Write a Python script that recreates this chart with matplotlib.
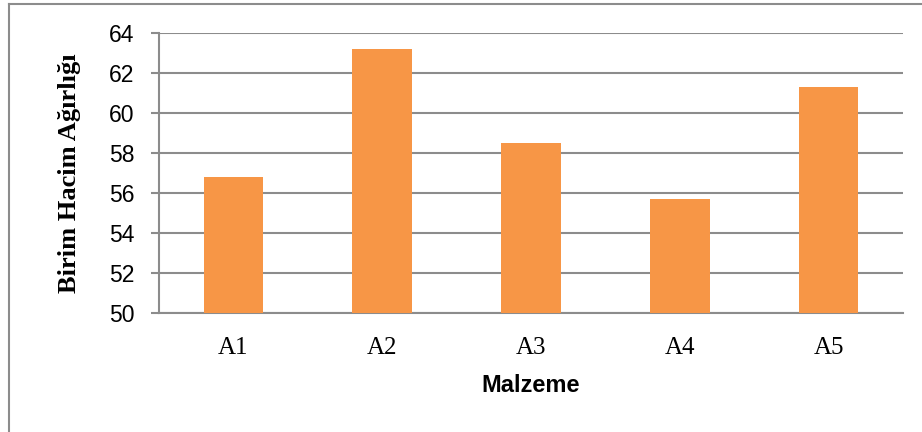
import matplotlib
matplotlib.use('Agg')
import matplotlib.pyplot as plt
import numpy as np

materials = ['A1', 'A2', 'A3', 'A4', 'A5']
unit_weight = [56.8, 63.2, 58.5, 55.7, 61.3]
y_ticks = [50, 52, 54, 56, 58, 60, 62, 64]

bar_color = '#F79646'
grid_color = '#8C8C8C'

fig = plt.figure(figsize=(9.22, 4.32), dpi=100)
ax = fig.add_axes([159 / 922, 1 - 313 / 432, (903 - 159) / 922, (313 - 33) / 432])

x = np.arange(len(materials))
ax.bar(x, np.array(unit_weight) - 50, bottom=50, width=0.4, color=bar_color, zorder=3)

ax.set_xlim(-0.5, len(materials) - 0.5)
ax.set_ylim(50, 64)
ax.set_yticks(y_ticks)
ax.set_yticklabels([str(t) for t in y_ticks], family='Liberation Sans', fontsize=16.5)
ax.set_xticks(x)
ax.set_xticklabels(materials, family='Liberation Serif', fontsize=18)
ax.tick_params(axis='x', length=0, pad=17)
ax.tick_params(axis='y', length=5.8, width=1.5, color=grid_color, pad=12)

ax.grid(axis='y', color=grid_color, linewidth=1.5, zorder=0)
for s in ['top', 'right']:
    ax.spines[s].set_visible(False)
ax.spines['left'].set_color(grid_color)
ax.spines['left'].set_linewidth(1.5)
ax.spines['bottom'].set_color(grid_color)
ax.spines['bottom'].set_linewidth(1.5)

ax.set_xlabel('Malzeme', family='Liberation Sans', fontweight='bold', fontsize=17, labelpad=11)
ax.set_ylabel('Birim Hacim Ağırlığı', family='Liberation Serif', fontweight='bold', fontsize=19)
ax.yaxis.set_label_coords(-0.105, 0.5)

# frame on top and left, like the cropped chart area
fig.add_artist(plt.Line2D([9 / 922, 9 / 922], [0, 1 - 4 / 432], transform=fig.transFigure, color=grid_color, linewidth=1.5))
fig.add_artist(plt.Line2D([9 / 922, 1], [1 - 4 / 432, 1 - 4 / 432], transform=fig.transFigure, color=grid_color, linewidth=1.5))

fig.savefig('out.png', dpi=100)
